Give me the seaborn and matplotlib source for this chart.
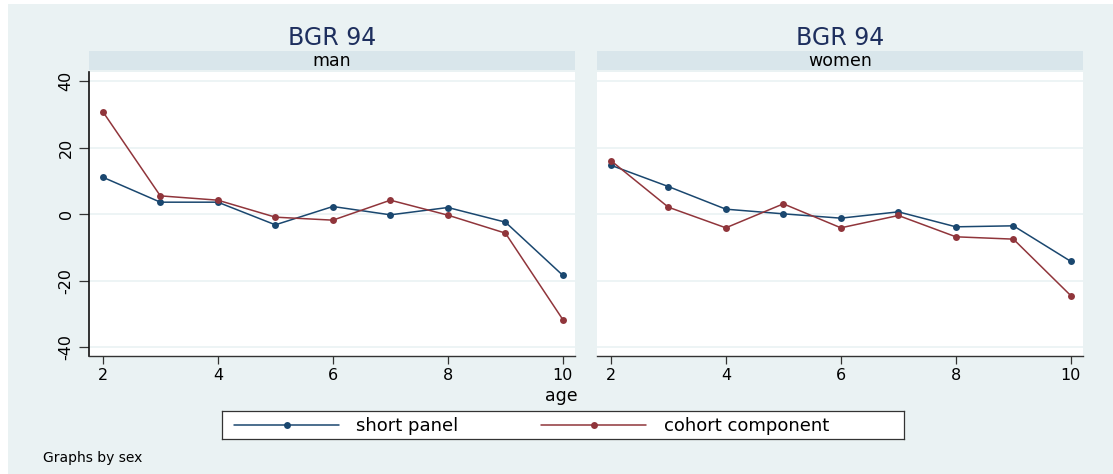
import matplotlib
matplotlib.use("Agg")
import matplotlib.pyplot as plt
from matplotlib.patches import Rectangle
import seaborn as sns
import pandas as pd

ages = [2, 3, 4, 5, 6, 7, 8, 9, 10]
man_short = [11.1, 3.6, 3.6, -3.2, 2.3, -0.2, 2.0, -2.4, -18.4]
man_cohort = [30.8, 5.5, 4.2, -0.9, -1.8, 4.2, -0.3, -5.7, -31.7]
women_short = [14.7, 8.3, 1.5, 0.1, -1.2, 0.7, -3.8, -3.5, -14.2]
women_cohort = [16.1, 2.1, -4.1, 3.1, -4.1, -0.4, -6.8, -7.5, -24.5]
panels = ["man", "women"]
series = ["short panel", "cohort component"]
title = "BGR 94"
yticks = [-40, -20, 0, 20, 40]
xticks = [2, 4, 6, 8, 10]

rows = []
for sex, s_vals, c_vals in [("man", man_short, man_cohort), ("women", women_short, women_cohort)]:
    for a, v in zip(ages, s_vals):
        rows.append({"sex": sex, "age": a, "value": v, "series": "short panel"})
    for a, v in zip(ages, c_vals):
        rows.append({"sex": sex, "age": a, "value": v, "series": "cohort component"})
df = pd.DataFrame(rows)

sns.set_theme(style="white")
plt.rcParams["font.family"] = ["DejaVu Sans"]
plt.rcParams["text.color"] = "black"
plt.rcParams["xtick.labelcolor"] = "black"
plt.rcParams["ytick.labelcolor"] = "black"

NAVY = "#1A476F"
MAROON = "#90353B"
BG = "#EAF2F3"
STRIP = "#D9E6EB"
W, H = 1113, 474

fig = plt.figure(figsize=(W / 100, H / 100), dpi=100)
fig.patch.set_facecolor("white")
fig.patches.append(Rectangle((8 / W, 0), 1 - 8 / W, 1 - 4 / H, transform=fig.transFigure,
                             facecolor=BG, edgecolor="none", zorder=-10))

def fx(px):
    return px / W

def fy(py):
    return 1 - py / H

plot_top, plot_bot = 72, 356
lefts = [89, 597]
width = 486
palette = {"short panel": NAVY, "cohort component": MAROON}

for i, sex in enumerate(panels):
    l = lefts[i]
    ax = fig.add_axes([fx(l), fy(plot_bot), width / W, (plot_bot - plot_top) / H])
    sub = df[df["sex"] == sex]
    sns.lineplot(data=sub, x="age", y="value", hue="series", hue_order=series,
                 palette=palette, marker="o", markersize=5, markeredgewidth=0,
                 linewidth=1.1, ax=ax, legend=False, zorder=3)
    ax.set_facecolor("white")
    ax.set_xlim(1.76, 10.21)
    ax.set_ylim(-42.6, 42.7)
    ax.set_yticks(yticks)
    ax.set_xticks(xticks)
    for yv in yticks:
        ax.axhline(yv, color=BG, linewidth=1.2, zorder=1)
    ax.set_xlabel("")
    ax.set_ylabel("")
    for s in ["top", "right"]:
        ax.spines[s].set_visible(False)
    ax.spines["bottom"].set_color("#333333")
    ax.spines["bottom"].set_linewidth(1.0)
    ax.tick_params(axis="x", direction="out", length=6, width=0.9, color="#333333",
                   labelsize=11.5, pad=3, bottom=True, labelcolor="black")
    if i == 0:
        ax.spines["left"].set_color("#111111")
        ax.spines["left"].set_linewidth(1.2)
        ax.tick_params(axis="y", direction="out", length=7, width=0.9, color="#333333",
                       labelsize=11.5, pad=4, left=True, labelcolor="black")
        ax.set_yticklabels([str(v) for v in yticks], rotation=90, va="center")
    else:
        ax.spines["left"].set_visible(False)
        ax.tick_params(axis="y", left=False, labelleft=False)
    # strip
    fig.patches.append(Rectangle((fx(l), fy(70)), width / W, 19 / H, transform=fig.transFigure,
                                 facecolor=STRIP, edgecolor="none"))
    fig.text(fx(l + width / 2), fy(60.5), sex, ha="center", va="center", fontsize=12.5, color="black")
    fig.text(fx(l + width / 2), fy(38), title, ha="center", va="center", fontsize=17, color="#1E2F5E")

fig.text(fx(561), fy(396), "age", ha="center", va="center", fontsize=12.5, color="black")

# legend
lax = fig.add_axes([fx(222), fy(439), (904 - 222) / W, 28 / H])
lax.set_xlim(0, 682)
lax.set_ylim(0, 28)
lax.set_facecolor("white")
for s in lax.spines.values():
    s.set_color("#333333")
    s.set_linewidth(0.9)
lax.set_xticks([])
lax.set_yticks([])
lax.plot([12, 117], [14, 14], color=NAVY, linewidth=1.1)
lax.plot([64.5], [14], marker="o", color=NAVY, markersize=5, markeredgewidth=0)
lax.text(134, 13, "short panel", ha="left", va="center", fontsize=13, color="black")
lax.plot([319, 424], [14, 14], color=MAROON, linewidth=1.1)
lax.plot([371.5], [14], marker="o", color=MAROON, markersize=5, markeredgewidth=0)
lax.text(442, 13, "cohort component", ha="left", va="center", fontsize=13, color="black")

fig.text(fx(43), fy(458), "Graphs by sex", ha="left", va="center", fontsize=10, color="black")

fig.savefig("out.png", dpi=100, facecolor=fig.get_facecolor())
